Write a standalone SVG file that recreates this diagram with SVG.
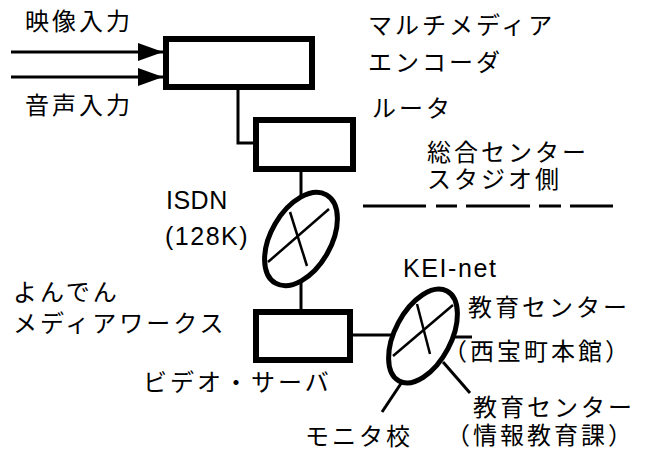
<svg xmlns="http://www.w3.org/2000/svg" width="646" height="456" viewBox="0 0 646 456">
<defs>
<style>
.box{fill:#fff;stroke:#000;stroke-width:6}
.net{fill:#fff;stroke:#000;stroke-width:5}
.ln{stroke:#000;stroke-width:3;fill:none}
.x{stroke:#000;stroke-width:2.5;fill:none}
.jp{font-family:"Noto Sans CJK JP","Noto Sans",sans-serif;font-size:24px;fill:#000;letter-spacing:3px}
.en{font-family:"Liberation Sans",Arial,sans-serif;font-size:25px;fill:#000}
</style>
<marker id="arr" markerUnits="userSpaceOnUse" markerWidth="26" markerHeight="18" refX="25" refY="9" orient="auto">
<path d="M0,0 L25,9 L0,18 Z" fill="#000"/>
</marker>
</defs>
<rect width="646" height="456" fill="#fff"/>
<g id="connectors">
<line class="ln" x1="11" y1="52" x2="163" y2="52" marker-end="url(#arr)"/>
<line class="ln" x1="11" y1="77" x2="163" y2="77" marker-end="url(#arr)"/>
<polyline class="ln" points="238,90 238,143 254,143"/>
<line class="ln" x1="301" y1="172" x2="301" y2="309"/>
<line class="ln" x1="353" y1="335" x2="392" y2="335"/>
<line class="ln" x1="453" y1="337" x2="472" y2="337"/>
<line class="ln" x1="443" y1="362" x2="470" y2="393"/>
<line class="ln" x1="402" y1="382" x2="382" y2="412"/>
</g>
<g id="boundary">
<path class="ln" d="M363,206H426M436,206H457M466,206H530M539,206H561M570,206H613"/>
</g>
<g id="encoder">
<rect class="box" x="166" y="39" width="146" height="48"/>
<text class="jp" x="368" y="34">マルチメディア</text>
<text class="jp" x="368" y="71">エンコーダ</text>
</g>
<g id="inputs">
<text class="jp" x="25" y="30">映像入力</text>
<text class="jp" x="25" y="114">音声入力</text>
</g>
<g id="router">
<rect class="box" x="256" y="120" width="97" height="49"/>
<text class="jp" x="372" y="117">ルータ</text>
</g>
<g id="studio">
<text class="jp" x="427" y="161">総合センター</text>
<text class="jp" x="427" y="188">スタジオ側</text>
</g>
<g id="isdn">
<ellipse class="net" cx="301" cy="239" rx="30" ry="51" transform="rotate(30 301 239)"/>
<line class="x" x1="268" y1="262" x2="329" y2="209"/>
<line class="x" x1="290" y1="212" x2="307" y2="266"/>
<text class="en" x="166" y="209" letter-spacing="0.5">ISDN</text>
<text class="en" x="165" y="245" letter-spacing="1.5">(128K)</text>
</g>
<g id="server">
<rect class="box" x="256" y="312" width="94" height="48"/>
<text class="jp" x="13" y="301">よんでん</text>
<text class="jp" x="13" y="332" letter-spacing="5">メディアワークス</text>
<text class="jp" x="143" y="391">ビデオ・サーバ</text>
</g>
<g id="keinet">
<ellipse class="net" cx="423" cy="336" rx="28" ry="51" transform="rotate(28 423 336)"/>
<line class="x" x1="393" y1="356" x2="453" y2="305"/>
<line class="x" x1="417" y1="304" x2="430" y2="354"/>
<text class="en" x="403" y="277" letter-spacing="1.6">KEI-net</text>
</g>
<g id="center1">
<text class="jp" x="468" y="316">教育センター</text>
<text class="jp" x="443" y="360" letter-spacing="6.5">（西宝町本館）</text>
</g>
<g id="center2">
<text class="jp" x="473" y="416">教育センター</text>
<text class="jp" x="446" y="444" letter-spacing="6">（情報教育課）</text>
</g>
<g id="monitor">
<text class="jp" x="305" y="445">モニタ校</text>
</g>
</svg>
